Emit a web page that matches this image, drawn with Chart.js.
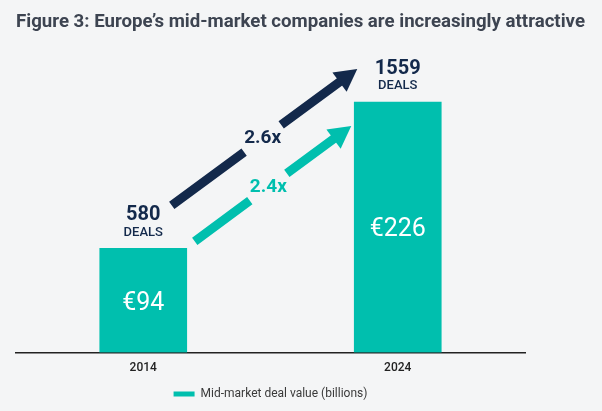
<!DOCTYPE html>
<html>
<head>
<meta charset="utf-8">
<script src="https://cdn.jsdelivr.net/npm/chart.js@4"></script>
<style>
  html, body { margin: 0; padding: 0; background: #f4f5f6; }
  #wrap { width: 602px; height: 411px; }
</style>
</head>
<body>
<div id="wrap"><canvas id="myChart" width="602" height="411"></canvas></div>
<script>
const years = ['2014', '2024'];
const dealValue = [94, 226];
const dealCount = [580, 1559];
const growthLabels = ['2.6x', '2.4x']; // deal count, deal value

const TEAL = '#00bfae';
const NAVY = '#13294b';
const FONT = 'Roboto';

const drawArrow = (ctx, x1, y1, x2, y2, color, label, t) => {
    let len = Math.hypot(x2 - x1, y2 - y1);
    let ux = (x2 - x1) / len, uy = (y2 - y1) / len;
    let px = -uy, py = ux;
    let head = 22, headW = 24, gap = 23;
    let mid = t * len;
    ctx.strokeStyle = color;
    ctx.fillStyle = color;
    ctx.lineWidth = 9;
    ctx.lineCap = 'butt';
    ctx.beginPath();
    ctx.moveTo(x1, y1);
    ctx.lineTo(x1 + ux * (mid - gap), y1 + uy * (mid - gap));
    ctx.moveTo(x1 + ux * (mid + gap), y1 + uy * (mid + gap));
    ctx.lineTo(x1 + ux * (len - head + 1), y1 + uy * (len - head + 1));
    ctx.stroke();
    let bx = x2 - ux * head, by = y2 - uy * head;
    ctx.beginPath();
    ctx.moveTo(x2, y2);
    ctx.lineTo(bx + px * headW / 2, by + py * headW / 2);
    ctx.lineTo(bx - px * headW / 2, by - py * headW / 2);
    ctx.closePath();
    ctx.fill();
    ctx.font = '700 19px ' + FONT;
    ctx.textAlign = 'center';
    ctx.textBaseline = 'middle';
    ctx.fillText(label, x1 + ux * mid, y1 + uy * mid);
};

const annotate = {
    id: 'annotate',
    afterDatasetsDraw(chart) {
        const ctx = chart.ctx;
        const bars = chart.getDatasetMeta(0).data;
        ctx.save();
        ctx.textAlign = 'center';
        ctx.textBaseline = 'middle';
        bars.forEach((bar, i) => {
            ctx.fillStyle = '#ffffff';
            ctx.font = '400 25px ' + FONT;
            ctx.fillText('€' + dealValue[i], bar.x, (bar.y + bar.base) / 2 + 3);
            ctx.fillStyle = NAVY;
            ctx.font = '700 20px ' + FONT;
            ctx.fillText(dealCount[i], bar.x, bar.y - 33);
            ctx.font = '500 13px ' + FONT;
            ctx.fillText('DEALS', bar.x, bar.y - 16);
        });
        let a = bars[0], b = bars[1];
        let aRight = a.x + a.width / 2, bLeft = b.x - b.width / 2;
        drawArrow(ctx, aRight - 15, a.y - 43, bLeft + 3, b.y - 33, NAVY, growthLabels[0], 0.49);
        drawArrow(ctx, aRight + 8, a.y - 7, bLeft - 3, b.y + 24, TEAL, growthLabels[1], 0.47);
        ctx.restore();
    }
};

window.onload = () => {
    const ctx = document.getElementById('myChart');
    new Chart(ctx, {
        type: 'bar',
        data: {
            labels: years,
            datasets: [{
                label: 'Mid-market deal value (billions)',
                data: dealValue,
                backgroundColor: TEAL,
                barThickness: 87
            }]
        },
        options: {
            responsive: false,
            animation: false,
            layout: { padding: { left: 16, right: 17, top: 0, bottom: 1 } },
            plugins: {
                title: {
                    display: true,
                    align: 'start',
                    text: 'Figure 3: Europe\u2019s mid-market companies are increasingly attractive',
                    color: '#3d4451',
                    font: { family: FONT, size: 18.7, weight: '700' },
                    padding: { top: 10.8, bottom: 26.7 }
                },
                legend: {
                    position: 'bottom',
                    fullSize: false,
                    labels: {
                        boxWidth: 21,
                        boxHeight: 5,
                        padding: 8,
                        color: '#3a3a3a',
                        font: { family: FONT, size: 12 }
                    }
                },
                tooltip: { enabled: false }
            },
            scales: {
                x: {
                    grid: { display: false, drawTicks: false },
                    border: { display: true, color: '#222222', width: 1.5 },
                    ticks: { padding: 8, color: '#222222', font: { family: FONT, size: 12, weight: '500' } },
                    afterFit(s) { s.height = 27.6; }
                },
                y: {
                    position: 'right',
                    min: 0,
                    max: 264,
                    grid: { display: false, drawTicks: false },
                    border: { display: false },
                    ticks: { display: false },
                    afterFit(s) { s.width = 60; }
                }
            }
        },
        plugins: [annotate]
    });
};
</script>
</body>
</html>
